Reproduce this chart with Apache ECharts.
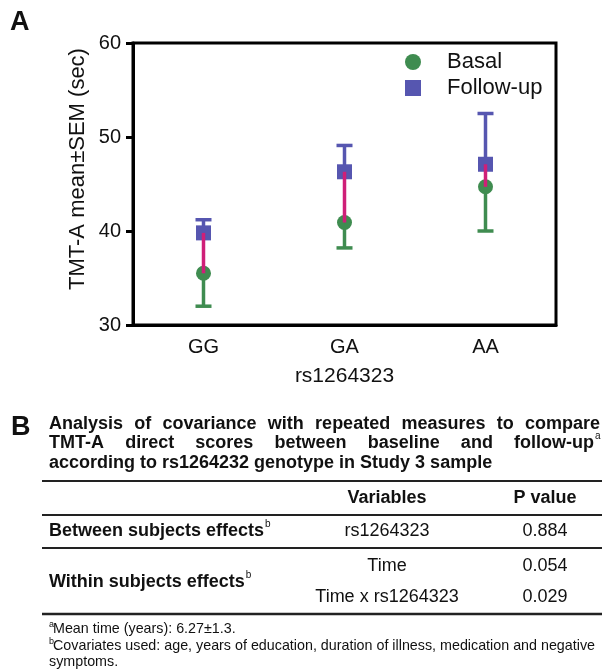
<!DOCTYPE html>
<html>
<head>
<meta charset="utf-8">
<script src="https://cdn.jsdelivr.net/npm/echarts@6/dist/echarts.min.js"></script>
<style>
  html, body { margin: 0; padding: 0; background: #fff; }
  #chart { width: 602px; height: 670px; }
</style>
</head>
<body>
<div id="chart"></div>
<script>
// panel A data
var genotypes = ['GG', 'GA', 'AA'];
var basalMean = [35.5, 40.9, 44.7];
var basalLow = [32.0, 38.2, 40.0];
var followMean = [39.8, 46.3, 47.1];
var followHigh = [41.2, 49.1, 52.5];
var yTicks = [30, 40, 50, 60];

// panel B table
var titleLines = [
  'Analysis of covariance with repeated measures to compare',
  'TMT-A direct scores between baseline and follow-up',
  'according to rs1264232 genotype in Study 3 sample'
];
var tableHead = ['Variables', 'P value'];
var effects = ['Between subjects effects', 'Within subjects effects'];
var variables = ['rs1264323', 'Time', 'Time x rs1264323'];
var pValues = ['0.884', '0.054', '0.029'];
var footnotes = [
  ['a', 'Mean time (years): 6.27\u00b11.3.'],
  ['b', 'Covariates used: age, years of education, duration of illness, medication and negative'],
  ['', 'symptoms.']
];

var FONT = 'Arial, "Liberation Sans", Helvetica, sans-serif';
var GREEN = '#3f8c50';
var BLUE = '#5656b0';
var PINK = '#cf1f78';

var measure = document.createElement('canvas').getContext('2d');
function textW(str, size, weight) {
  measure.font = (weight || 'normal') + ' ' + size + 'px ' + FONT;
  return measure.measureText(str).width;
}

function txt(str, x, y, size, opts) {
  opts = opts || {};
  return {
    type: 'text', x: x, y: y, silent: true,
    style: {
      text: str, fontSize: size, fontFamily: FONT,
      fontWeight: opts.weight || 'normal',
      fill: opts.fill || '#111',
      align: opts.align || 'left',
      verticalAlign: opts.va || 'middle'
    }
  };
}

// justified title lines
var graphics = [];
var tLeft = 49, tRight = 600, tSize = 18;
var lineY = [424, 443.5, 463];
titleLines.forEach(function (line, li) {
  var words = line.split(' ');
  var supW = li === 1 ? 6 : 0;
  if (li === 2) {
    graphics.push(txt(line, tLeft, lineY[li], tSize, {weight: 'bold'}));
    return;
  }
  var total = 0;
  words.forEach(function (w) { total += textW(w, tSize, 'bold'); });
  var gap = (tRight - supW - tLeft - total) / (words.length - 1);
  var x = tLeft;
  words.forEach(function (w) {
    graphics.push(txt(w, x, lineY[li], tSize, {weight: 'bold'}));
    x += textW(w, tSize, 'bold') + gap;
  });
  if (li === 1) graphics.push(txt('a', tRight - supW + 1, lineY[li] - 7, 10));
});

// table rules
[[481, 2], [515, 2], [548, 2], [614, 2.5]].forEach(function (r) {
  graphics.push({
    type: 'line', silent: true,
    shape: {x1: 42, y1: r[0], x2: 602, y2: r[0]},
    style: {stroke: '#222', lineWidth: r[1]}
  });
});

var colVar = 387, colP = 545;
graphics.push(txt(tableHead[0], colVar, 498, 18, {weight: 'bold', align: 'center'}));
graphics.push(txt(tableHead[1], colP, 498, 18, {weight: 'bold', align: 'center'}));

var effY = [531, 582];
effects.forEach(function (e, i) {
  graphics.push(txt(e, 49, effY[i], 18, {weight: 'bold'}));
  graphics.push(txt('b', 49 + textW(e, 18, 'bold') + 1, effY[i] - 7, 10));
});
var rowY = [531, 566, 597];
variables.forEach(function (v, i) {
  graphics.push(txt(v, colVar, rowY[i], 18, {align: 'center'}));
  graphics.push(txt(pValues[i], colP, rowY[i], 18, {align: 'center'}));
});

var footY = [629, 646, 662];
footnotes.forEach(function (f, i) {
  if (f[0]) graphics.push(txt(f[0], 49, footY[i] - 4, 9));
  graphics.push(txt(f[1], 49 + (f[0] ? 4 : 0), footY[i], 14.3));
});

// panel letters and rotated y-axis name
graphics.push(txt('A', 10, 23, 27, {weight: 'bold'}));
graphics.push(txt('B', 11, 428, 27, {weight: 'bold'}));
graphics.push({
  type: 'text', x: 78, y: 169, rotation: Math.PI / 2, silent: true,
  style: {
    text: 'TMT-A mean\u00b1SEM (sec)', fontSize: 22, fontFamily: FONT,
    fill: '#111', align: 'center', verticalAlign: 'middle'
  }
});

function errorBar(color, capHalf) {
  return function (params, api) {
    var i = api.value(0);
    var a = api.coord([i, api.value(1)]);
    var b = api.coord([i, api.value(2)]);
    return {
      type: 'group',
      children: [
        {type: 'line', shape: {x1: a[0], y1: a[1], x2: b[0], y2: b[1]}, style: {stroke: color, lineWidth: 3.5}},
        {type: 'line', shape: {x1: b[0] - capHalf, y1: b[1], x2: b[0] + capHalf, y2: b[1]}, style: {stroke: color, lineWidth: 3.5}}
      ]
    };
  };
}

var chart = echarts.init(document.getElementById('chart'), null, {renderer: 'canvas'});
chart.setOption({
  animation: false,
  backgroundColor: '#fff',
  textStyle: {fontFamily: FONT},
  grid: {
    left: 133, right: 46, top: 43, bottom: 345,
    show: true, borderColor: '#000', borderWidth: 3, backgroundColor: 'transparent'
  },
  legend: {
    data: ['Basal', 'Follow-up'],
    orient: 'vertical',
    left: 400, top: 46,
    itemWidth: 16, itemHeight: 16, itemGap: 4,
    textStyle: {fontSize: 22, color: '#111', padding: [0, 0, 0, 21]}
  },
  xAxis: {
    type: 'category',
    data: genotypes,
    name: 'rs1264323',
    nameLocation: 'middle',
    nameGap: 41,
    nameTextStyle: {fontSize: 21, color: '#111'},
    axisLine: {lineStyle: {color: '#000', width: 3}},
    axisTick: {alignWithLabel: true, length: 7, lineStyle: {width: 3, color: '#000'}},
    axisLabel: {fontSize: 20, color: '#111', margin: 12},
    splitLine: {show: false}
  },
  yAxis: {
    type: 'value',
    min: yTicks[0], max: yTicks[yTicks.length - 1], interval: 10,
    axisLine: {show: true, lineStyle: {color: '#000', width: 3}},
    axisTick: {show: true, length: 7, lineStyle: {width: 3, color: '#000'}},
    axisLabel: {fontSize: 20, color: '#111', margin: 12},
    splitLine: {show: false}
  },
  series: [
    {
      type: 'custom', name: 'basal-sem', z: 2,
      renderItem: errorBar(GREEN, 8),
      data: genotypes.map(function (g, i) { return [i, basalMean[i], basalLow[i]]; })
    },
    {
      type: 'custom', name: 'follow-sem', z: 2,
      renderItem: errorBar(BLUE, 8),
      data: genotypes.map(function (g, i) { return [i, followMean[i], followHigh[i]]; })
    },
    {
      type: 'scatter', name: 'Basal', z: 3,
      symbol: 'circle', symbolSize: 15,
      itemStyle: {color: GREEN, opacity: 1},
      data: basalMean.map(function (v, i) { return [i, v]; })
    },
    {
      type: 'scatter', name: 'Follow-up', z: 3,
      symbol: 'rect', symbolSize: 15,
      itemStyle: {color: BLUE, opacity: 1},
      data: followMean.map(function (v, i) { return [i, v]; })
    },
    {
      type: 'custom', name: 'change', z: 4,
      renderItem: function (params, api) {
        var i = api.value(0);
        var a = api.coord([i, api.value(1)]);
        var b = api.coord([i, api.value(2)]);
        return {type: 'line', shape: {x1: a[0], y1: a[1], x2: b[0], y2: b[1]}, style: {stroke: PINK, lineWidth: 3.5}};
      },
      data: genotypes.map(function (g, i) { return [i, basalMean[i], followMean[i]]; })
    }
  ],
  graphic: graphics
});
</script>
</body>
</html>
